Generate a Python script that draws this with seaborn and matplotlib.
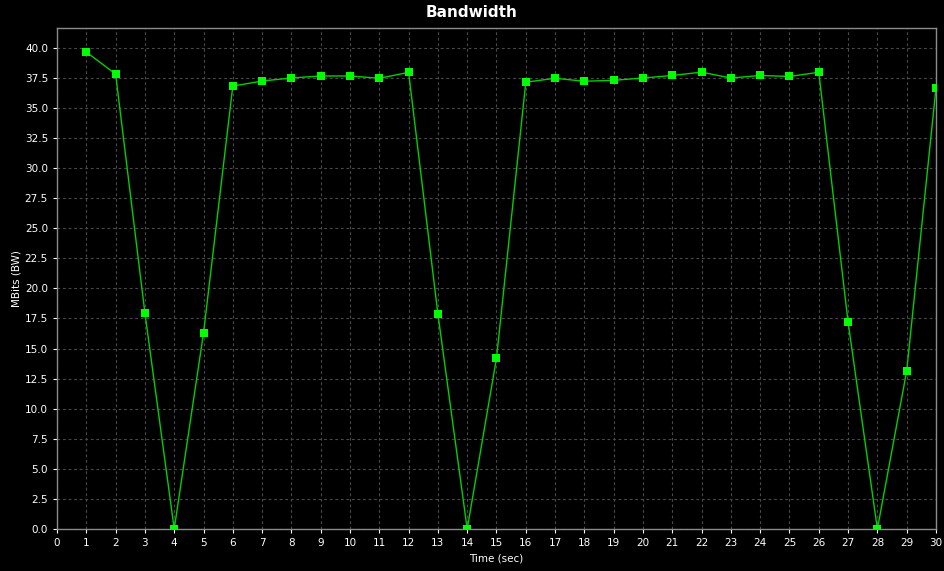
import numpy as np
import pandas as pd
import matplotlib.pyplot as plt
import seaborn as sns
from matplotlib.ticker import MultipleLocator, FormatStrFormatter

# 数据
time_sec = list(range(1, 31))
bandwidth = [39.65, 37.82, 17.95, 0.0, 16.29, 36.82, 37.24, 37.49, 37.66, 37.66,
             37.47, 37.96, 17.87, 0.0, 14.21, 37.14, 37.47, 37.22, 37.30, 37.49,
             37.70, 37.98, 37.49, 37.70, 37.62, 37.97, 17.20, 0.0, 13.13, 36.64]

df_bw = pd.DataFrame({"Time": time_sec, "BW": bandwidth})

sns.set_style("dark")
plt.rcParams['font.family'] = ['DejaVu Sans']

fig = plt.figure(figsize=(9.44, 5.71), dpi=100, facecolor='black')
ax = fig.add_axes([0.0604, 0.0736, 0.9311, 0.8774])
ax.set_facecolor('black')

sns.lineplot(data=df_bw, x="Time", y="BW", ax=ax, color='#00d000', linewidth=1.0,
             marker='s', markersize=6, markerfacecolor='#00ff00',
             markeredgecolor='#00ff00', markeredgewidth=0, zorder=3)

ax.set_xlim(0, 30)
ax.set_ylim(0, 41.65)
ax.xaxis.set_major_locator(MultipleLocator(1))
ax.yaxis.set_major_locator(MultipleLocator(2.5))
ax.yaxis.set_major_formatter(FormatStrFormatter('%.1f'))

# 网格
ax.grid(True, color='#4a4a4a', linestyle=(0, (2.5, 2.5)), linewidth=0.8)
for s in ax.spines.values():
    s.set_visible(True)
    s.set_color('#8a8a8a')
    s.set_linewidth(1.0)

ax.tick_params(colors='white', labelsize=7.5, length=3, width=0.8,
               direction='out', bottom=True, left=True)
for t in ax.get_xticklines() + ax.get_yticklines():
    t.set_color('#8a8a8a')

ax.set_xlabel("Time (sec)", color='white', fontsize=7.5, labelpad=4)
ax.set_ylabel("MBits (BW)", color='white', fontsize=7.5, labelpad=2)
fig.suptitle("Bandwidth", color='white', fontsize=11, fontweight='bold', y=0.992)

plt.savefig("out.png", dpi=100, facecolor='black')
plt.close()
